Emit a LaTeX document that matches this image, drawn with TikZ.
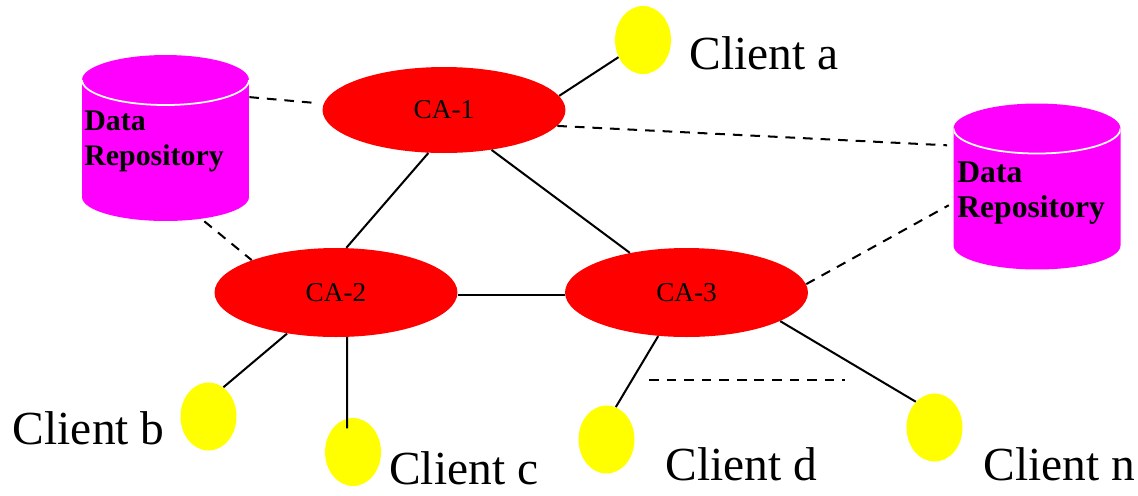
\documentclass[tikz,border=0pt]{standalone}
\usepackage{fontspec}
\setmainfont{Liberation Serif}
\usetikzlibrary{shapes.geometric}
\definecolor{cared}{RGB}{255,0,0}
\definecolor{clientyellow}{RGB}{255,255,0}
\definecolor{repomagenta}{RGB}{255,0,255}

\begin{document}
\begin{tikzpicture}[
    x=0.02cm, y=-0.02cm,
    ca/.style={ellipse, fill=cared, minimum width=4.86cm, minimum height=1.78cm, inner sep=0pt, font=\fontsize{15.5}{18}\selectfont},
    client/.style={ellipse, fill=clientyellow, minimum width=1.12cm, minimum height=1.36cm, inner sep=0pt},
    clientlabel/.style={anchor=base west, inner sep=0pt, font=\fontsize{27}{32}\selectfont},
    repo/.style={rectangle, minimum width=3.34cm, minimum height=3.32cm, inner sep=0pt,
        path picture={
            \fill[repomagenta] ([yshift=-0.5cm]path picture bounding box.north west)
                arc[start angle=180, end angle=0, x radius=1.67cm, y radius=0.5cm]
                -- ([yshift=0.48cm]path picture bounding box.south east)
                arc[start angle=0, end angle=-180, x radius=1.67cm, y radius=0.48cm] -- cycle;
            \draw[white, line width=1pt] ([yshift=-0.5cm]path picture bounding box.north west)
                arc[start angle=180, end angle=360, x radius=1.67cm, y radius=0.5cm];
        }},
    repolabel/.style={anchor=west, align=left, inner sep=0pt, font=\fontsize{17}{19.6}\selectfont\bfseries},
    link/.style={line width=1.15pt},
    dashlink/.style={line width=1.15pt, dash pattern=on 5.5pt off 4.5pt}
]
    \useasboundingbox (0,0) rectangle (1138,495);

    % Data repositories
    \node[repo] (repoL) at (165.5,138) {};
    \node[repolabel] (repoLtxt) at (84,141.5) {Data\\Repository};
    \node[repo] (repoR) at (1037,186.5) {};
    \node[repolabel, font=\fontsize{18}{20.4}\selectfont\bfseries] (repoRtxt) at (957,193) {Data\\Repository};

    % Certificate authorities
    \node[ca, minimum height=1.72cm] (ca1) at (444,110) {CA-1};
    \node[ca] (ca2) at (336,292.5) {CA-2};
    \node[ca] (ca3) at (686.5,292.5) {CA-3};

    % Clients
    \node[client] (cla) at (643,40) {};
    \node[client] (clb) at (208.5,416.5) {};
    \node[client] (clc) at (353,452) {};
    \node[client] (cld) at (606.5,439.5) {};
    \node[client] (cln) at (934.5,427.5) {};

    \node[clientlabel] (labela) at (689,69) {Client a};
    \node[clientlabel] (labelb) at (12.6,444) {Client b};
    \node[clientlabel] (labelc) at (389,484) {Client c};
    \node[clientlabel] (labeld) at (665,480) {Client d};
    \node[clientlabel] (labeln) at (983,480) {Client n};

    % CA links
    \draw[link] (ca1.250) -- (ca2.77.5);
    \draw[link] (ca1.320) -- (ca3.145);
    \draw[link] (ca2.-1) -- (ca3.181);

    % Client links
    \draw[link] (ca1.7) -- (cla.215);
    \draw[link] (ca2.220.7) -- (clb.63.8);
    \draw[link, shorten >=-0.2cm] (ca2.284) -- (clc.100);
    \draw[link] (ca3.237.4) -- (cld.74.6);
    \draw[link] (ca3.343.9) -- (cln.126.7);

    % Repository links
    \draw[dashlink, shorten >=0.24cm] (repoL.26.7) -- (ca1.177);
    \draw[dashlink] (repoL.295.2) -- (ca2.159.6);
    \draw[dashlink, shorten >=0.12cm] (ca1.352.5) -- (repoR.154.8);
    \draw[dashlink, shorten >=0.1cm] (ca3.4.6) -- (repoR.191.8);

    % More clients
    \coordinate (dotsL) at (649,380);
    \coordinate (dotsR) at (845,380);
    \draw[dashlink] (dotsL) -- (dotsR);
\end{tikzpicture}
\end{document}
